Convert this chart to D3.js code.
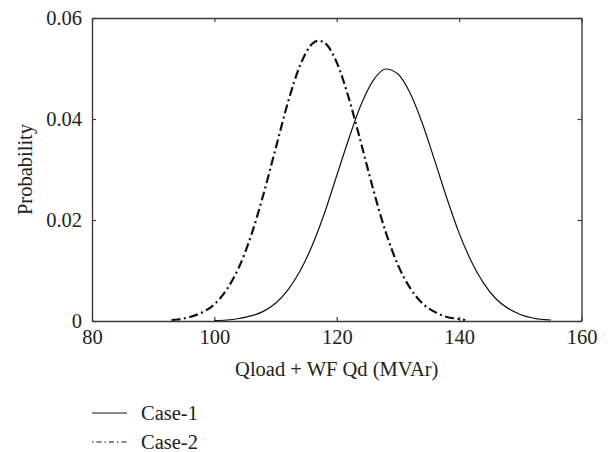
<!DOCTYPE html>
<html>
<head>
<meta charset="utf-8">
<script src="https://cdn.jsdelivr.net/npm/d3@7"></script>
<style>
  body { margin: 0; background: #fff; }
  svg text { font-family: "Liberation Serif", "Times New Roman", serif; fill: #222; }
</style>
</head>
<body>
<div id="chart"></div>
<script>
// values
const case1X = [100, 102, 104, 106, 108, 110, 112, 114, 116, 118, 120, 122, 124, 126, 128, 130, 132, 134, 136, 138, 140, 142, 144, 146, 148, 150, 152, 155];
const case1Y = [0.0001, 0.0002, 0.0005, 0.0010, 0.0019, 0.0035, 0.0061, 0.0099, 0.0150, 0.0214, 0.0288, 0.0362, 0.0429, 0.0477, 0.0499, 0.0489, 0.0451, 0.0391, 0.0318, 0.0243, 0.0174, 0.0118, 0.0075, 0.0044, 0.0025, 0.0013, 0.0006, 0.0002];
const case2X = [93, 94, 96, 98, 100, 102, 104, 106, 108, 110, 112, 114, 116, 117, 118, 120, 122, 124, 126, 128, 130, 132, 134, 136, 138, 140, 141];
const case2Y = [0.0002, 0.0003, 0.0008, 0.0017, 0.0033, 0.0062, 0.0106, 0.0169, 0.0250, 0.0341, 0.0432, 0.0506, 0.0549, 0.0555, 0.0551, 0.0512, 0.0440, 0.0351, 0.0259, 0.0176, 0.0111, 0.0065, 0.0035, 0.0018, 0.0008, 0.0004, 0.0002];
const xTicks = [80, 100, 120, 140, 160];
const yTicks = [0, 0.02, 0.04, 0.06];
const seriesNames = ["Case-1", "Case-2"];

const W = 611, H = 452;
const margin = { top: 18, right: 29.5, bottom: 131, left: 92 };

const svg = d3.select('#chart').append('svg')
  .attr('width', W)
  .attr('height', H);

const x = d3.scaleLinear().domain([80, 160]).range([margin.left, W - margin.right]);
const y = d3.scaleLinear().domain([0, 0.06]).range([H - margin.bottom, margin.top]);

const fmtY = d => d === 0 ? "0" : d3.format(".2f")(d);
const fontSize = 20.5;
const serif = '"Liberation Serif", "Times New Roman", serif';
const frameColor = "#3a3a3a";

// axes (ticks point inside, mirrored on top/right)
const axBottom = svg.append('g')
  .attr('transform', `translate(0, ${y(0)})`)
  .call(d3.axisBottom(x).tickValues(xTicks).tickSizeInner(-4).tickSizeOuter(0).tickPadding(8));
const axTop = svg.append('g')
  .attr('transform', `translate(0, ${y(0.06)})`)
  .call(d3.axisTop(x).tickValues(xTicks).tickSizeInner(-4).tickSizeOuter(0).tickFormat(''));
const axLeft = svg.append('g')
  .attr('transform', `translate(${x(80)}, 0)`)
  .call(d3.axisLeft(y).tickValues(yTicks).tickFormat(fmtY).tickSizeInner(-4).tickSizeOuter(0).tickPadding(10));
const axRight = svg.append('g')
  .attr('transform', `translate(${x(160)}, 0)`)
  .call(d3.axisRight(y).tickValues(yTicks).tickSizeInner(-4).tickSizeOuter(0).tickFormat(''));

[axBottom, axTop, axLeft, axRight].forEach(g => {
  g.attr('font-family', serif);
  g.select('.domain').attr('stroke', frameColor).attr('stroke-width', 1.4);
  g.selectAll('.tick line').attr('stroke', frameColor).attr('stroke-width', 1.2);
  g.selectAll('.tick text')
    .attr('font-family', serif)
    .attr('font-size', fontSize)
    .attr('fill', '#222');
});

// curves
const line = d3.line()
  .curve(d3.curveMonotoneX)
  .x(d => x(d[0]))
  .y(d => y(d[1]));

const case1 = case1X.map((v, i) => [v, case1Y[i]]);
const case2 = case2X.map((v, i) => [v, case2Y[i]]);

svg.append('path')
  .datum(case1)
  .attr('fill', 'none')
  .attr('stroke', '#111')
  .attr('stroke-width', 1.2)
  .attr('d', line);

svg.append('path')
  .datum(case2)
  .attr('fill', 'none')
  .attr('stroke', '#111')
  .attr('stroke-width', 2.2)
  .attr('stroke-dasharray', '9,3.5,2,3.5')
  .attr('d', line);

// axis titles
svg.append('text')
  .attr('x', (x(80) + x(160)) / 2)
  .attr('y', 376)
  .attr('text-anchor', 'middle')
  .attr('font-family', serif)
  .attr('font-size', fontSize)
  .text('Qload + WF Qd (MVAr)');

svg.append('text')
  .attr('transform', `translate(32, ${(y(0) + y(0.06)) / 2}) rotate(-90)`)
  .attr('text-anchor', 'middle')
  .attr('font-family', serif)
  .attr('font-size', fontSize)
  .text('Probability');

// legend
const legend = svg.append('g');
const legendY = [413, 442];
const dashes = [null, '1.5,3,5,3'];
seriesNames.forEach((name, i) => {
  legend.append('line')
    .attr('x1', 92).attr('x2', 127)
    .attr('y1', legendY[i]).attr('y2', legendY[i])
    .attr('stroke', '#111')
    .attr('stroke-width', 1)
    .attr('stroke-dasharray', dashes[i]);
  legend.append('text')
    .attr('x', 141)
    .attr('y', legendY[i])
    .attr('dy', '0.35em')
    .attr('font-family', serif)
    .attr('font-size', fontSize)
    .text(name);
});
</script>
</body>
</html>
